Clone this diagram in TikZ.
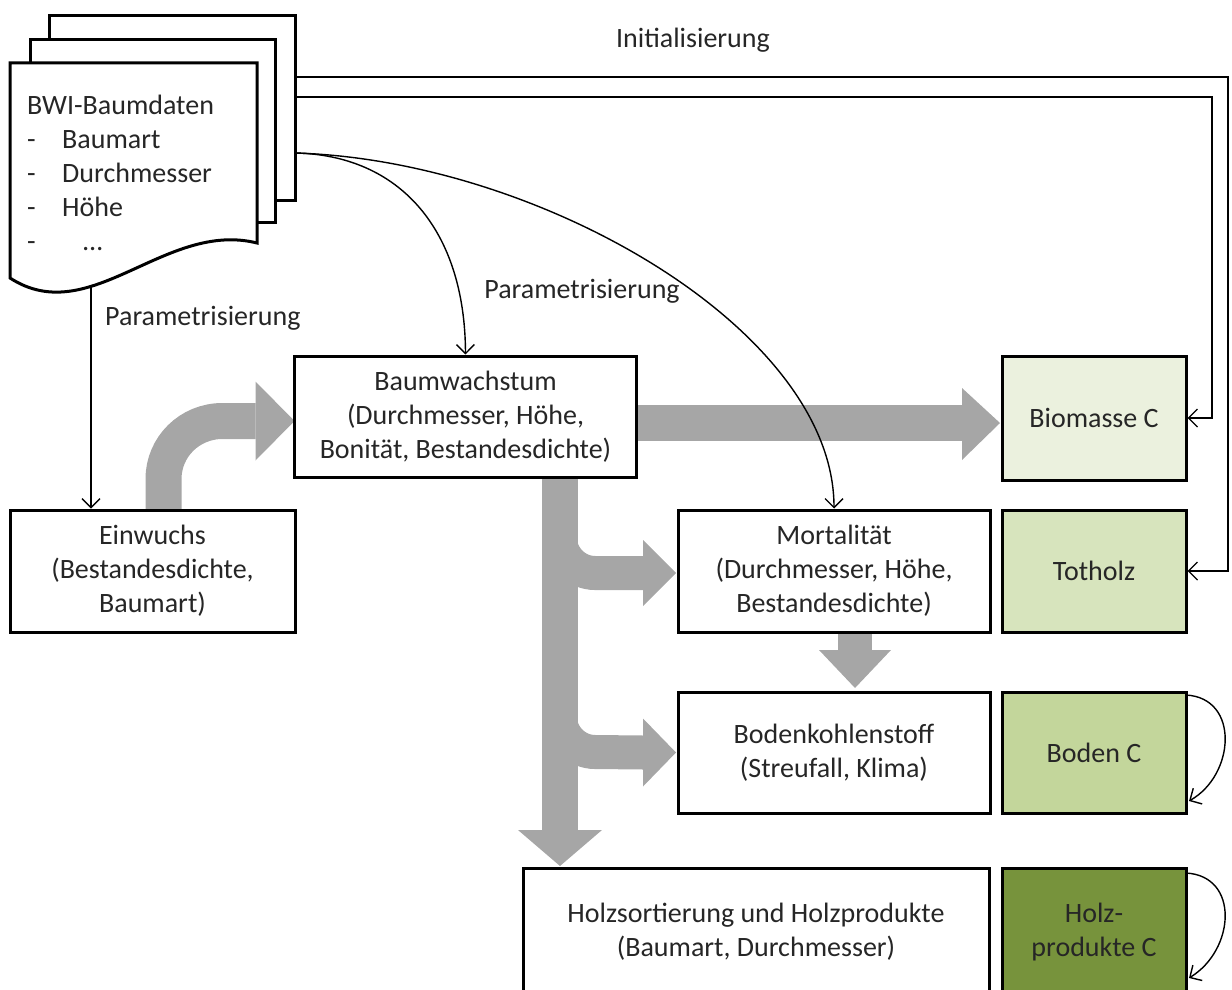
\documentclass[tikz,border=0pt]{standalone}
\usepackage{fontspec}
\setmainfont{Carlito}
\usetikzlibrary{arrows.meta,calc}
\definecolor{fatgray}{HTML}{A6A6A6}
\definecolor{cbio}{HTML}{EBF1DE}
\definecolor{ctot}{HTML}{D7E4BD}
\definecolor{cbod}{HTML}{C3D69B}
\definecolor{cholz}{HTML}{77933C}
\definecolor{txt}{HTML}{262626}
\pgfdeclarelayer{bg}
\pgfsetlayers{bg,main}
\begin{document}
\begin{tikzpicture}[x=1pt,y=-1pt,
  every node/.style={font=\fontsize{28}{34}\selectfont, text=txt},
  box/.style={draw=black, line width=3pt, fill=white, align=center, inner sep=0pt, outer sep=0pt},
  page/.style={draw=black, line width=3pt, fill=white, inner sep=0pt, outer sep=0pt, line join=miter},
  lbl/.style={inner sep=0pt},
  thinarr/.style={draw=black, line width=1.4pt, -{Straight Barb[length=9pt,width=18pt]}},
  thinline/.style={draw=black, line width=1.4pt},
  fat/.style={draw=fatgray, line width=36pt},
  fatb/.style={draw=fatgray, line width=34pt},
  fathead/.style={fill=fatgray}]
\useasboundingbox (0,0) rectangle (1232,990);

% document stack
\node[page, minimum width=246pt, minimum height=184pt] (p3) at (172,108) {};
\node[page, minimum width=245pt, minimum height=182pt] (p2) at (152.5,131) {};
\draw[page] (10,63) -- (257,63) -- (257,243) .. controls (165,220) and (90,330) .. (10,278) -- cycle;
\coordinate (docbot) at (91,286);
\node[lbl, anchor=base west] (d1) at (27,114) {BWI-Baumdaten};
\node[lbl, anchor=base west] (d2) at (27,148) {\makebox[35pt][l]{-}Baumart};
\node[lbl, anchor=base west] (d3) at (27,182) {\makebox[35pt][l]{-}Durchmesser};
\node[lbl, anchor=base west] (d4) at (27,216) {\makebox[35pt][l]{-}Höhe};
\node[lbl, anchor=base west] (d5) at (27,250) {\makebox[35pt][l]{-}\hspace{21pt}…};

% process boxes
\node[box, minimum width=342pt, minimum height=121pt] (bw) at (465.5,416.5) {Baumwachstum\\(Durchmesser, Höhe,\\Bonität, Bestandesdichte)};
\node[box, minimum width=285pt, minimum height=122pt] (ein) at (152.5,571) {Einwuchs\\(Bestandesdichte,\\Baumart)};
\node[box, minimum width=312pt, minimum height=122pt] (mort) at (834,571) {Mortalität\\(Durchmesser, Höhe,\\Bestandesdichte)};
\node[box, minimum width=312pt, minimum height=121pt] (boden) at (834,752.5) {Bodenkohlenstoff\\(Streufall, Klima)};
\node[box, minimum width=466pt, minimum height=128pt] (holz) at (756,932) {Holzsortierung und Holzprodukte\\(Baumart, Durchmesser)};

% carbon pools
\node[box, fill=cbio, minimum width=184pt, minimum height=124pt] (bio) at (1094,418) {Biomasse C};
\node[box, fill=ctot, minimum width=184pt, minimum height=122pt] (tot) at (1094,571) {Totholz};
\node[box, fill=cbod, minimum width=184pt, minimum height=121pt] (bodc) at (1094,752.5) {Boden C};
\node[box, fill=cholz, minimum width=184pt, minimum height=128pt] (hpc) at (1094,932) {Holz-\\produkte C};

% labels
\node[lbl] (init) at (693,40) {Initialisierung};
\node[lbl, anchor=west] (par1) at (105,318) {Parametrisierung};
\node[lbl] (par2) at (582,291) {Parametrisierung};

% fat grey flow arrows (background)
\begin{pgfonlayer}{bg}
  % Baumwachstum -> Biomasse C
  \draw[fat] ($(bw.east)+(0,6.5)$) -- ($(bio.west)+(-40,5)$);
  \fill[fathead] ($(bio.west)+(-40,-30)$) -- ($(bio.west)+(-2,5)$) -- ($(bio.west)+(-40,42)$) -- cycle;
  % Einwuchs -> Baumwachstum
  \draw[fat] ($(ein.north)+(11,0)$) -- ($(ein.north)+(11,-31)$)
     .. controls ($(ein.north)+(11,-63)$) and ($(ein.north)+(37,-89)$) .. ($(ein.north)+(70,-89)$)
     -- ($(bw.west)+(-39,4.5)$);
  \fill[fathead] ($(bw.west)+(-39,-35)$) -- ($(bw.west)+(0,4.5)$) -- ($(bw.west)+(-39,44)$) -- cycle;
  % trunk Baumwachstum -> Holzsortierung
  \draw[fat] ($(bw.south)+(94.5,0)$) -- ($(holz.north)+(-196,-38)$);
  \fill[fathead] ($(holz.north)+(-238,-38)$) -- ($(holz.north)+(-196,-2)$) -- ($(holz.north)+(-154,-38)$) -- cycle;
  % branch -> Mortalitaet
  \draw[fatb] ($(holz.north)+(-196,-330)$) .. controls ($(holz.north)+(-196,-311)$) and ($(holz.north)+(-180,-295)$) .. ($(holz.north)+(-161,-295)$)
     -- ($(mort.west)+(-35,2)$);
  \fill[fathead] ($(mort.west)+(-35,-31)$) -- ($(mort.west)+(-2,2)$) -- ($(mort.west)+(-35,35)$) -- cycle;
  % branch -> Bodenkohlenstoff
  \draw[fatb] ($(holz.north)+(-196,-151)$) .. controls ($(holz.north)+(-196,-132)$) and ($(holz.north)+(-180,-116)$) .. ($(holz.north)+(-161,-116)$)
     -- ($(boden.west)+(-35,0)$);
  \fill[fathead] ($(boden.west)+(-35,-34)$) -- ($(boden.west)+(-2,0)$) -- ($(boden.west)+(-35,34)$) -- cycle;
  % Mortalitaet -> Bodenkohlenstoff
  \draw[fatb] ($(mort.south)+(21,0)$) -- ($(boden.north)+(21,-42)$);
  \fill[fathead] ($(boden.north)+(-15,-42)$) -- ($(boden.north)+(21,-4)$) -- ($(boden.north)+(57,-42)$) -- cycle;
\end{pgfonlayer}

% thin connectors
\draw[thinarr] ($(p3.east)+(0,-31)$) -| ($(tot.east)+(42,0)$) -- ($(tot.east)+(1.5,0)$);
\draw[thinarr] ($(p3.east)+(0,-11)$) -| ($(bio.east)+(26,0)$) -- ($(bio.east)+(1.5,0)$);
\draw[thinarr] ($(p3.east)+(0,45)$) .. controls (400,155) and (465,230) .. ($(bw.north)+(0,-1.5)$);
\draw[thinarr] ($(p3.east)+(0,45)$) .. controls (540,160) and (834,330) .. ($(mort.north)+(0,-1.5)$);
\draw[thinarr] (docbot) -- ($(ein.north)+(-61.5,-1.5)$);
\draw[thinarr] ($(bodc.north east)+(0,3)$) .. controls ($(bodc.north east)+(54,6)$) and ($(bodc.south east)+(49,-38)$) .. ($(bodc.south east)+(3,-12)$);
\draw[thinarr] ($(hpc.north east)+(0,5)$) .. controls ($(hpc.north east)+(54,8)$) and ($(hpc.north east)+(49,82)$) .. ($(hpc.north east)+(3,110)$);
\end{tikzpicture}
\end{document}
